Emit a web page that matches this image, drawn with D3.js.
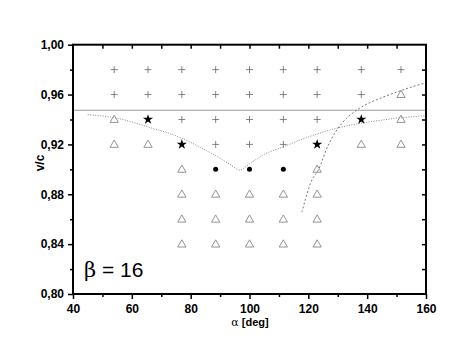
<!DOCTYPE html>
<html><head><meta charset="utf-8">
<script src="https://cdn.jsdelivr.net/npm/d3@7"></script>
<style>body{margin:0;background:#fff}svg{display:block}</style>
</head><body><svg id="c" width="469" height="357"></svg>
<script>
const alphas = [54, 65.5, 77, 88.5, 100, 111.5, 123, 138, 151.5];
const vcRows = [0.98, 0.96, 0.94, 0.92, 0.90, 0.88, 0.86, 0.84];
// symbol per column, top to bottom: p=plus, t=triangle, s=star, c=circle, ''=none
const markerGrid = [
  ["p","p","t","t","","","",""],
  ["p","p","s","t","","","",""],
  ["p","p","p","s","t","t","t","t"],
  ["p","p","p","p","c","t","t","t"],
  ["p","p","p","p","c","t","t","t"],
  ["p","p","p","p","c","t","t","t"],
  ["p","p","p","s","t","t","t","t"],
  ["p","p","s","t","","","",""],
  ["p","t","t","t","","","",""]
];
const limitLine = 0.9474;
const curve1X = [45, 54, 65.5, 77, 83, 88.5, 93, 96.8, 100, 105, 111.4, 120, 129.7, 137.9, 145, 151.6, 160];
const curve1Y = [0.9438, 0.9415, 0.934, 0.925, 0.918, 0.911, 0.9045, 0.8995, 0.9045, 0.912, 0.918, 0.926, 0.933, 0.937, 0.9395, 0.9414, 0.943];
const curve2X = [117.8, 121.2, 123.4, 126.5, 129.7, 133, 136.5, 140, 144.4, 150, 155, 160];
const curve2Y = [0.8656, 0.8915, 0.8995, 0.918, 0.9316, 0.941, 0.9476, 0.9525, 0.957, 0.962, 0.966, 0.9695];
const xTicks = [40, 60, 80, 100, 120, 140, 160];
const yTicks = [0.80, 0.84, 0.88, 0.92, 0.96, 1.00];

const svg = d3.select("#c");
const m = {l:73, r:426, t:44.7, b:294};
const x = d3.scaleLinear().domain([40,160]).range([m.l, m.r]);
const y = d3.scaleLinear().domain([0.80,1.00]).range([m.b, m.t]);
const fmt = d => d3.format(".2f")(d).replace(".", ",");
const font = "Arial, 'Liberation Sans', sans-serif";

// horizontal limit line
svg.append("line").attr("x1", m.l).attr("x2", m.r).attr("y1", y(limitLine)).attr("y2", y(limitLine))
  .attr("stroke", "#9a9a9a").attr("stroke-width", 1.2);

// curves
const line = d3.line().x(d=>x(d[0])).y(d=>y(d[1])).curve(d3.curveMonotoneX);
svg.append("path").attr("d", line(curve1X.map((v,i)=>[v,curve1Y[i]])))
  .attr("fill","none").attr("stroke","#888").attr("stroke-width",1).attr("stroke-dasharray","1,1.5");
const line2 = d3.line().x(d=>x(d[0])).y(d=>y(d[1])).curve(d3.curveCatmullRom);
svg.append("path").attr("d", line2(curve2X.map((v,i)=>[v,curve2Y[i]])))
  .attr("fill","none").attr("stroke","#777").attr("stroke-width",1).attr("stroke-dasharray","2,2");

// markers
const pts = [];
alphas.forEach((a,i)=>vcRows.forEach((v,j)=>{ if(markerGrid[i][j]) pts.push({a, v, s: markerGrid[i][j]}); }));
const g = svg.append("g");
pts.forEach(p=>{
  const px = x(p.a), py = y(p.v);
  if (p.s === "p") {
    g.append("path").attr("d", `M${px-3.5},${py}H${px+3.5}M${px},${py-3.5}V${py+3.5}`)
      .attr("stroke","#666").attr("stroke-width",0.8);
  } else if (p.s === "t") {
    g.append("path").attr("d", d3.symbol(d3.symbolTriangle, 30)()).attr("transform",`translate(${px},${py+0.5})`)
      .attr("fill","none").attr("stroke","#888").attr("stroke-width",0.9);
  } else if (p.s === "s") {
    g.append("path").attr("d", d3.symbol(d3.symbolStar, 32)()).attr("transform",`translate(${px},${py})`)
      .attr("fill","#000");
  } else if (p.s === "c") {
    g.append("circle").attr("cx",px).attr("cy",py).attr("r",2.5).attr("fill","#000");
  }
});

// axes
const axB = svg.append("g").attr("transform",`translate(0,${m.b})`)
  .call(d3.axisBottom(x).tickValues(xTicks).tickSize(5).tickFormat(d3.format("d")));
const axBm = svg.append("g").attr("transform",`translate(0,${m.b})`)
  .call(d3.axisBottom(x).tickValues([50,70,90,110,130,150]).tickSize(3).tickFormat(""));
const axL = svg.append("g").attr("transform",`translate(${m.l},0)`)
  .call(d3.axisLeft(y).tickValues(yTicks).tickSize(5).tickFormat(fmt));
const axLm = svg.append("g").attr("transform",`translate(${m.l},0)`)
  .call(d3.axisLeft(y).tickValues([0.82,0.86,0.90,0.94,0.98]).tickSize(3).tickFormat(""));
const axT = svg.append("g").attr("transform",`translate(0,${m.t})`)
  .call(d3.axisBottom(x).tickValues(d3.range(50,160,10)).tickSize(4).tickFormat(""));
const axR = svg.append("g").attr("transform",`translate(${m.r},0)`)
  .call(d3.axisLeft(y).tickValues(d3.range(0.82,0.99,0.02)).tickSize(4).tickFormat(""));
[axB,axBm,axL,axLm,axT,axR].forEach(a=>{
  a.select(".domain").remove();
  a.selectAll("line").attr("stroke","#000").attr("stroke-width",1.5);
  a.selectAll("text").attr("font-family",font).attr("font-weight","bold").attr("font-size",12).attr("fill","#000");
});
axB.selectAll("text").attr("dy","0.95em");
axL.selectAll("text").attr("dx","-1");
// frame
svg.append("rect").attr("x",m.l).attr("y",m.t).attr("width",m.r-m.l).attr("height",m.b-m.t)
  .attr("fill","none").attr("stroke","#000").attr("stroke-width",2);

// labels
svg.append("text").attr("x", 250).attr("y", 326).attr("text-anchor","middle")
  .attr("font-family",font).attr("font-weight","bold").attr("font-size",11)
  .html('<tspan font-weight="normal" font-family="\'DejaVu Serif\', serif">α</tspan> [deg]');
svg.append("text").attr("transform","translate(44,163) rotate(-90)").attr("text-anchor","middle")
  .attr("font-family",font).attr("font-weight","bold").attr("font-size",12).text("v/c");
svg.append("text").attr("x", 84).attr("y", 277)
  .attr("font-family",font).attr("font-size",21)
  .html('<tspan font-family="\'DejaVu Serif\', serif">β</tspan> = 16');
</script></body></html>
